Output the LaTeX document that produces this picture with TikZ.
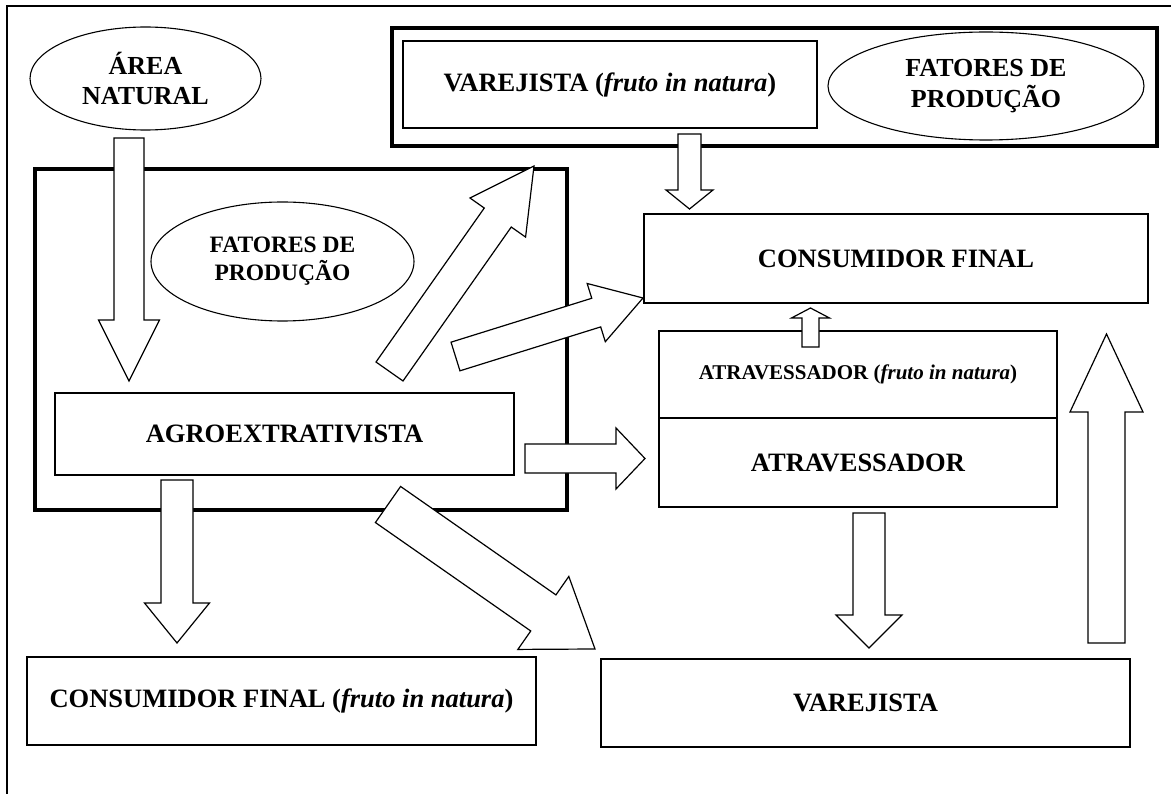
\documentclass[tikz,border=0pt]{standalone}
\usepackage{fontspec}
\setmainfont{Liberation Serif}
\usetikzlibrary{shapes.geometric,calc}
\tikzset{
  box/.style={draw, line width=1.4pt, inner sep=0pt, outer sep=0pt, align=center,
    font=\bfseries\fontsize{26.5}{30}\selectfont},
  grp/.style={draw, line width=4.5pt, inner sep=0pt, outer sep=0pt},
  oval/.style={draw, ellipse, line width=1.1pt, inner sep=0pt, outer sep=0pt, align=center},
  blk/.style={draw, line width=1.2pt, fill=white, line join=miter},
  frame/.style={draw, line width=1.3pt},
}
\newcommand{\blockarrow}[5]{%
  \coordinate (ba-b) at ($(#2)!#5!(#1)$);
  \draw[blk] ($(#1)!#3!90:(#2)$) -- ($(ba-b)!#3!-90:(#1)$) -- ($(ba-b)!#4!-90:(#1)$) -- (#2)
    -- ($(ba-b)!#4!90:(#1)$) -- ($(ba-b)!#3!90:(#1)$) -- ($(#1)!#3!-90:(#2)$) -- cycle;
}
\begin{document}
\begin{tikzpicture}[x=1pt,y=-1pt]
\useasboundingbox (0,0) rectangle (1171,794);
\fill[white] (0,0) rectangle (1171,794);
% outer frame (only top and left visible)
\coordinate (fr1) at (7,794);
\coordinate (fr2) at (7,6);
\coordinate (fr3) at (1171,6);
\draw[frame] (fr1) -- (fr2) -- (fr3);

% group boxes
\node[grp, minimum width=765pt, minimum height=118pt] (topgrp) at (774.5,87) {};
\node[grp, minimum width=532pt, minimum height=341pt] (agrogrp) at (301,339.5) {};

% nodes
\node[oval, minimum width=231pt, minimum height=103pt, font=\bfseries\fontsize{26}{30}\selectfont] (area) at (145.5,78.5) {ÁREA\\NATURAL};
\node[box, minimum width=414pt, minimum height=87pt] (varej1) at (610,84.5) {VAREJISTA (\textit{fruto in natura})};
\node[oval, minimum width=316pt, minimum height=108pt, font=\bfseries\fontsize{26}{31}\selectfont] (fat2) at (986,86) {FATORES DE\\PRODUÇÃO};
\node[oval, minimum width=263pt, minimum height=119pt, font=\bfseries\fontsize{23.5}{28}\selectfont] (fat1) at (282.5,261.5) {FATORES DE\\PRODUÇÃO};
\node[box, minimum width=459pt, minimum height=82pt] (agro) at (284.5,434) {AGROEXTRATIVISTA};
\node[box, minimum width=504pt, minimum height=89pt] (cons) at (896,258.5) {CONSUMIDOR FINAL};
\node[box, minimum width=398pt, minimum height=87pt, font=\bfseries\fontsize{21}{24}\selectfont] (atrav1) at (858,374.5) {ATRAVESSADOR (\textit{fruto in natura})};
\node[box, minimum width=398pt, minimum height=89pt] (atrav2) at (858,462.5) {ATRAVESSADOR};
\node[box, minimum width=509pt, minimum height=88pt] (consf) at (281.5,701) {CONSUMIDOR FINAL (\textit{fruto in natura})};
\node[box, minimum width=529pt, minimum height=88pt] (varej2) at (865.5,703) {VAREJISTA};

% block arrows
\coordinate (aT) at (129,138);    \coordinate (aH) at (129,381);
\blockarrow{aT}{aH}{15pt}{30.5pt}{61pt}
\coordinate (bT) at (689.5,134);  \coordinate (bH) at (689.5,209);
\blockarrow{bT}{bH}{11.5pt}{23.5pt}{19pt}
\coordinate (cT) at (177,480);    \coordinate (cH) at (177,643);
\blockarrow{cT}{cH}{16pt}{32.5pt}{40pt}
\coordinate (dT) at (869,513);    \coordinate (dH) at (869,648);
\blockarrow{dT}{dH}{16pt}{33pt}{33pt}
\coordinate (eT) at (1106.5,643); \coordinate (eH) at (1106.5,334);
\blockarrow{eT}{eH}{18.5pt}{36.5pt}{78pt}
\coordinate (fT) at (810.5,347);  \coordinate (fH) at (810.5,308);
\blockarrow{fT}{fH}{8.5pt}{19pt}{10pt}
\coordinate (gT) at (525,458.5);  \coordinate (gH) at (645,458.5);
\blockarrow{gT}{gH}{14.5pt}{30.5pt}{29pt}
\coordinate (d1T) at (389.5,371.5); \coordinate (d1H) at (534,166);
\blockarrow{d1T}{d1H}{16.5pt}{34pt}{63pt}
\coordinate (d2T) at (455.5,356.5); \coordinate (d2H) at (643,298);
\blockarrow{d2T}{d2H}{15pt}{30.5pt}{49pt}
\coordinate (d3T) at (388,504.5); \coordinate (d3H) at (595,649);
\blockarrow{d3T}{d3H}{22pt}{44.5pt}{63pt}
\end{tikzpicture}
\end{document}
